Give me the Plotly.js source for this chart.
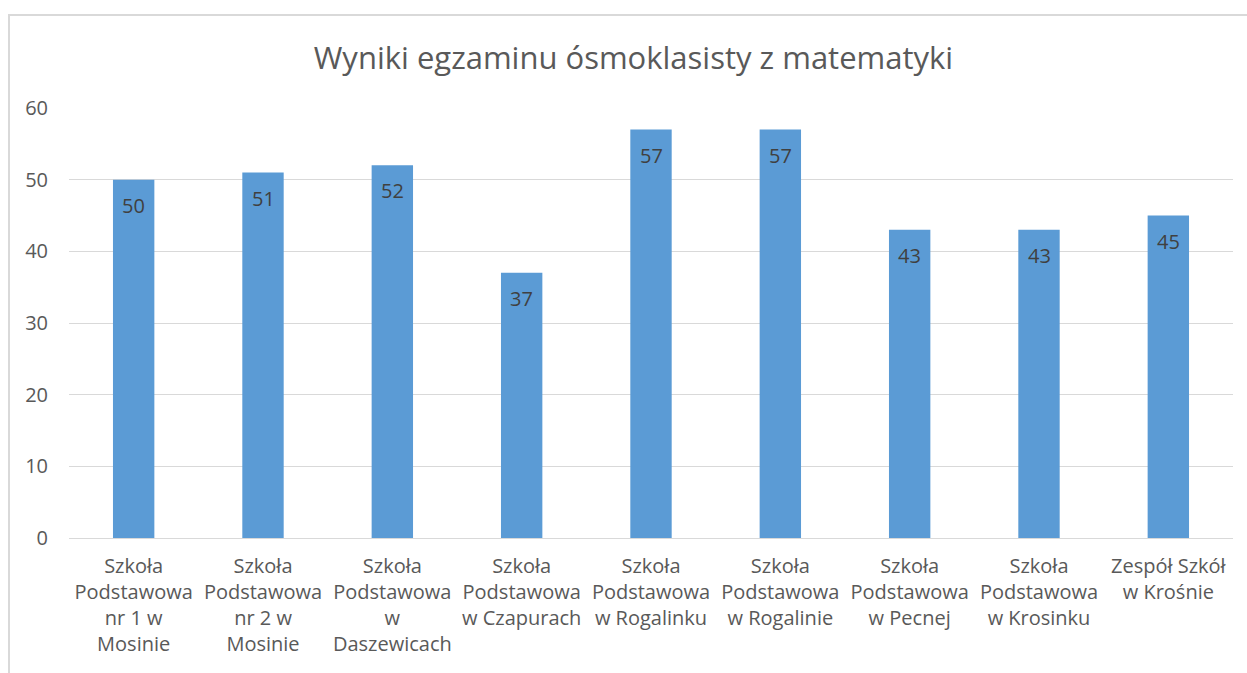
<!DOCTYPE html>
<html>
<head>
<meta charset="utf-8">
<script src="https://cdn.plot.ly/plotly-3.0.1.min.js"></script>
<style>
html,body{margin:0;padding:0;background:#fff;overflow:hidden;}
#frame{position:absolute;left:8px;top:14px;width:1300px;height:700px;border-left:2px solid #d9d9d9;border-top:2px solid #d9d9d9;}
#chart{position:absolute;left:0;top:0;width:1247px;height:673px;}
</style>
</head>
<body>
<div id="frame"></div>
<div id="chart"></div>
<script>
const chartTitle = "Wyniki egzaminu ósmoklasisty z matematyki";
const categories = [
  "Szkoła<br>Podstawowa<br>nr 1 w<br>Mosinie",
  "Szkoła<br>Podstawowa<br>nr 2 w<br>Mosinie",
  "Szkoła<br>Podstawowa<br>w<br>Daszewicach",
  "Szkoła<br>Podstawowa<br>w Czapurach",
  "Szkoła<br>Podstawowa<br>w Rogalinku",
  "Szkoła<br>Podstawowa<br>w Rogalinie",
  "Szkoła<br>Podstawowa<br>w Pecnej",
  "Szkoła<br>Podstawowa<br>w Krosinku",
  "Zespół Szkół<br>w Krośnie"
];
const values = [50, 51, 52, 37, 57, 57, 43, 43, 45];
const yTicks = [0, 10, 20, 30, 40, 50, 60];

const FONT = "Open Sans";
const trace = {
  type: "bar",
  x: categories,
  y: values,
  marker: {color: "#5B9BD5"},
  hoverinfo: "x+y"
};

const annotations = values.map((v, i) => ({
  x: categories[i],
  y: v,
  xref: "x",
  yref: "y",
  text: String(v),
  showarrow: false,
  yanchor: "top",
  yshift: -10,
  font: {family: FONT, size: 20, color: "#404040"}
}));

const layout = {
  width: 1247,
  height: 673,
  margin: {l: 69, r: 14, t: 108, b: 135},
  paper_bgcolor: "rgba(0,0,0,0)",
  plot_bgcolor: "rgba(0,0,0,0)",
  title: {
    text: chartTitle,
    font: {family: FONT, size: 31, color: "#595959"},
    x: 0.508,
    xanchor: "center",
    y: 0.913,
    yanchor: "middle"
  },
  bargap: 0.68,
  showlegend: false,
  xaxis: {
    type: "category",
    tickfont: {family: FONT, size: 20, color: "#595959"},
    showgrid: false,
    showline: false,
    ticks: "",
    ticklabelstandoff: 14,
    automargin: false
  },
  yaxis: {
    range: [0, 60],
    tickvals: yTicks,
    ticktext: yTicks.map(String),
    tickfont: {family: FONT, size: 20, color: "#595959"},
    showgrid: true,
    gridcolor: "#d9d9d9",
    gridwidth: 1,
    zeroline: true,
    zerolinecolor: "#d9d9d9",
    zerolinewidth: 1,
    showline: false,
    ticks: "",
    ticklabelstandoff: 20,
    automargin: false
  },
  annotations: annotations,
  font: {family: FONT}
};

Plotly.newPlot("chart", [trace], layout, {displayModeBar: false, staticPlot: true});
</script>
</body>
</html>
